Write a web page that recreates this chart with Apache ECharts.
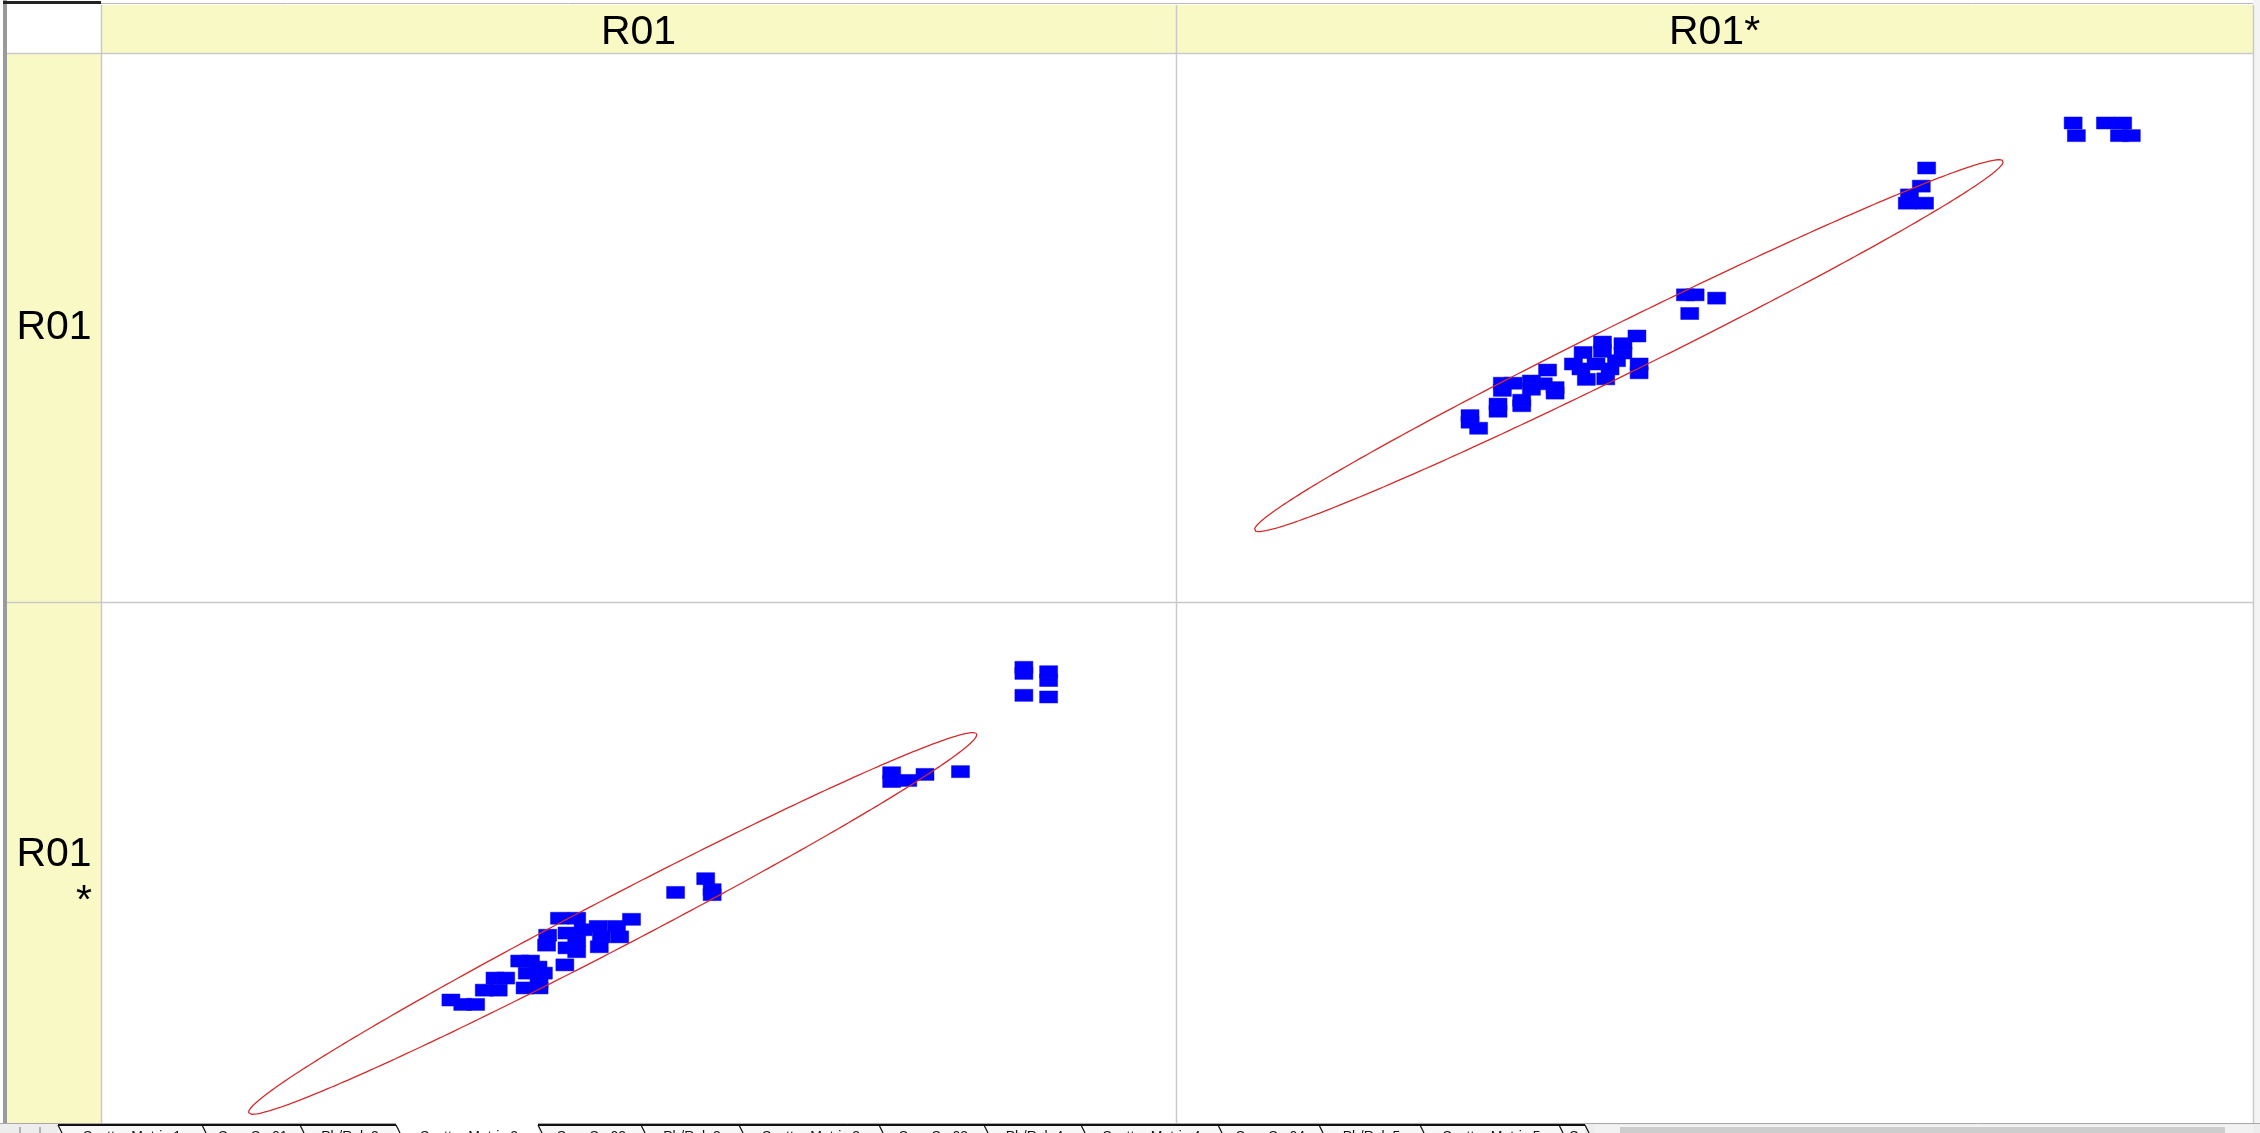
<!DOCTYPE html>
<html><head><meta charset="utf-8">
<script src="https://cdn.jsdelivr.net/npm/echarts@6/dist/echarts.min.js"></script>
<style>html,body{margin:0;padding:0;background:#fff;overflow:hidden}#c{width:2260px;height:1133px}</style>
</head><body><div id="c"></div>
<script>
// ---------------- data ----------------
const VARIABLES = ['R01', 'R01*'];
// paired observations: R01 (first variable) and R01* (second variable)
const R01 = [32.1, 33.2, 34.4, 35.2, 36.5, 36.2, 37.2, 39.0, 40.3, 38.5, 39.5, 40.2, 40.7, 39.2, 41.1,
             41.0, 42.2, 43.8, 42.9, 43.8, 42.9, 43.8, 42.7, 45.8, 47.5, 47.8, 46.1, 45.9, 48.9, 44.4, 40.3,
             53.0, 56.4, 56.4, 55.8,
             73.1, 73.1, 74.6, 76.2, 79.5,
             85.4, 85.4, 85.4, 87.7, 87.7, 87.7];
const R01_STAR = [27.8, 27.0, 27.0, 29.6, 29.6, 31.8, 31.8, 30.0, 30.0, 34.9, 34.9, 33.8, 32.7, 32.7, 39.6,
                  37.8, 42.7, 42.7, 40.0, 38.7, 37.3, 36.6, 34.2, 41.2, 41.2, 39.3, 39.3, 37.5, 42.5, 40.6, 31.0,
                  47.4, 47.0, 47.9, 49.9,
                  67.6, 69.2, 67.8, 68.9, 69.4,
                  83.3, 87.3, 88.4, 83.0, 86.0, 87.6];
// confidence ellipse (in data units: R01, R01*)
const ELLIPSE_CENTER_R01 = 47.15;
const ELLIPSE_CENTER_R01_STAR = 41.75;
const ELLIPSE_SEMI_MAJOR = 48.4;
const ELLIPSE_SEMI_MINOR = 3.6;
const ELLIPSE_ANGLE_DEG = 45.75;
// axis ranges of each variable
const R01_RANGE_LL = [-0.45, 99.55];
const R01_RANGE_UR = [0.45, 100.45];
const R01_STAR_RANGE_LL = [0.3, 100.3];
const R01_STAR_RANGE_UR = [-0.3, 99.7];
const TAB_LABELS = ['Scatter Matrix 1', 'Sum Sq 01', 'Pb/Rnk 2', 'Scatter Matrix 2', 'Sum Sq 02', 'Pb/Rnk 3',
                    'Scatter Matrix 3', 'Sum Sq 03', 'Pb/Rnk 4', 'Scatter Matrix 4', 'Sum Sq 04', 'Pb/Rnk 5',
                    'Scatter Matrix 5', 'S'];

// ---------------- layout ----------------
const L = { left: 7, colA: 101, colB: 1176, right: 2253, top: 5, hdrBottom: 53, rowB: 602, bottom: 1123, cellH: 549 };
const TAB_EDGES = [58, 202, 300, 396, 538, 641, 739, 879, 984, 1081, 1218, 1319, 1420, 1559, 1585];
const SELECTED_TAB = 3;
const FONT = 'Arial, "Liberation Sans", sans-serif';
const HDR_BG = '#f9f9c6', GRID_COL = '#c9c9c9';

const pairs = R01.map((v, i) => [v, R01_STAR[i]]);
function ellipse() {
  const pts = [], phi = ELLIPSE_ANGLE_DEG * Math.PI / 180, n = 360;
  for (let i = 0; i <= n; i++) {
    const t = 2 * Math.PI * i / n;
    const u = ELLIPSE_SEMI_MAJOR * Math.cos(t), v = ELLIPSE_SEMI_MINOR * Math.sin(t);
    pts.push([ELLIPSE_CENTER_R01 + u * Math.cos(phi) - v * Math.sin(phi),
              ELLIPSE_CENTER_R01_STAR + u * Math.sin(phi) + v * Math.cos(phi)]);
  }
  return pts;
}
const ell = ellipse();

const hiddenAxis = (gi, r) => ({ type: 'value', gridIndex: gi, min: r[0], max: r[1], show: false, scale: true });

const g = [];
function rect(x, y, w, h, fill, z) { g.push({ type: 'rect', shape: { x, y, width: w, height: h }, style: { fill }, z: z || 0, silent: true }); }
function line(x1, y1, x2, y2, stroke, lw, z) { g.push({ type: 'line', shape: { x1, y1, x2, y2 }, style: { stroke, lineWidth: lw || 1 }, z: z || 1, silent: true }); }
function text(t, x, y, size, align, vAlign, z, fill) {
  g.push({ type: 'text', x, y, style: { text: t, font: size + 'px ' + FONT, fill: fill || '#000', align, verticalAlign: vAlign }, z: z || 2, silent: true });
}
// frame
rect(L.colA, L.top, L.right - L.colA, L.hdrBottom - L.top, HDR_BG);
rect(L.left, L.hdrBottom, L.colA - L.left, L.bottom - L.hdrBottom, HDR_BG);
rect(0, 0, 3, L.bottom, '#ffffff');
rect(3, 0, 4, L.bottom, '#9a9a9a');
rect(L.right, 0, 2260 - L.right, L.bottom, '#f4f4f4');
line(L.left, 3.5, L.right, 3.5, '#b8b8b8', 1);
line(3, 2.5, L.colA, 2.5, '#222', 3, 3);
line(L.left, L.hdrBottom + 0.5, L.right, L.hdrBottom + 0.5, GRID_COL, 1.5);
line(L.left, L.rowB + 0.5, L.right, L.rowB + 0.5, GRID_COL, 1.5);
line(L.colA + 0.5, L.top, L.colA + 0.5, L.bottom, GRID_COL, 1.5);
line(L.colB + 0.5, L.top, L.colB + 0.5, L.bottom, GRID_COL, 1.5);
line(L.right + 0.5, L.top, L.right + 0.5, L.bottom, GRID_COL, 1.5);
// headers
text(VARIABLES[0], (L.colA + L.colB) / 2, 33, 41, 'center', 'middle');
text(VARIABLES[1], (L.colB + L.right) / 2, 33, 41, 'center', 'middle');
text(VARIABLES[0], (L.left + L.colA) / 2, 328, 41, 'center', 'middle');
text('R01', (L.left + L.colA) / 2, 855, 41, 'center', 'middle');
text('*', 92, 902, 41, 'right', 'middle');
// tab bar
rect(0, L.bottom, 2260, 1133 - L.bottom, '#ededed', 20);
line(0, L.bottom + 0.5, 2260, L.bottom + 0.5, '#a8a8a8', 1, 21);
line(20, L.bottom + 4, 20, 1133, '#777', 1, 21);
line(40, L.bottom + 4, 40, 1133, '#777', 1, 21);
rect(TAB_EDGES[0], L.bottom + 1, TAB_EDGES[TAB_EDGES.length - 1] - TAB_EDGES[0], 1133 - L.bottom, '#f7f7f7', 20);
rect(TAB_EDGES[SELECTED_TAB], L.bottom, TAB_EDGES[SELECTED_TAB + 1] - TAB_EDGES[SELECTED_TAB], 1133 - L.bottom, '#ffffff', 21);
line(TAB_EDGES[0], L.bottom + 2, TAB_EDGES[SELECTED_TAB], L.bottom + 2, '#111', 2, 22);
line(TAB_EDGES[SELECTED_TAB + 1], L.bottom + 2, TAB_EDGES[TAB_EDGES.length - 1], L.bottom + 2, '#111', 2, 22);
for (let i = 0; i < TAB_EDGES.length; i++) {
  line(TAB_EDGES[i], L.bottom + 2, TAB_EDGES[i] + 4, 1133, '#111', 1.2, 22);
}
TAB_LABELS.forEach((t, i) => {
  text(t, (TAB_EDGES[i] + TAB_EDGES[i + 1]) / 2 + 2, L.bottom + 7, 14, 'center', 'top', 23, '#111');
});
rect(1595, L.bottom + 2, L.right - 1595, 1133 - L.bottom - 2, '#f2f2f2', 21);
rect(1620, L.bottom + 4, 2225 - 1620, 1133 - L.bottom - 4, '#cdcdcd', 22);

const MARK = { symbol: 'rect', symbolSize: [18, 12], itemStyle: { color: '#0000ff', opacity: 1, borderColor: '#0c0ce8', borderWidth: 0.5 } };
const ELL = { type: 'line', showSymbol: false, symbol: 'none', smooth: false, lineStyle: { color: '#d52b2b', width: 1.3 }, z: 5, silent: true };

const option = {
  backgroundColor: '#ffffff',
  animation: false,
  grid: [
    { left: L.colA, top: L.rowB, width: L.colB - L.colA, height: L.cellH, containLabel: false, outerBoundsMode: 'none' },
    { left: L.colB, top: L.hdrBottom, width: L.right - L.colB, height: L.cellH, containLabel: false, outerBoundsMode: 'none' }
  ],
  xAxis: [hiddenAxis(0, R01_RANGE_LL), hiddenAxis(1, R01_STAR_RANGE_UR)],
  yAxis: [hiddenAxis(0, R01_STAR_RANGE_LL), hiddenAxis(1, R01_RANGE_UR)],
  series: [
    Object.assign({ type: 'scatter', name: 'R01* vs R01', xAxisIndex: 0, yAxisIndex: 0, data: pairs, z: 3 }, MARK),
    Object.assign({ name: 'ellipse LL', xAxisIndex: 0, yAxisIndex: 0, data: ell }, ELL),
    Object.assign({ type: 'scatter', name: 'R01 vs R01*', xAxisIndex: 1, yAxisIndex: 1, data: pairs.map(p => [p[1], p[0]]), z: 3 }, MARK),
    Object.assign({ name: 'ellipse UR', xAxisIndex: 1, yAxisIndex: 1, data: ell.map(p => [p[1], p[0]]) }, ELL)
  ],
  graphic: g
};
const chart = echarts.init(document.getElementById('c'), null, { renderer: 'canvas' });
chart.setOption(option);
</script></body></html>
